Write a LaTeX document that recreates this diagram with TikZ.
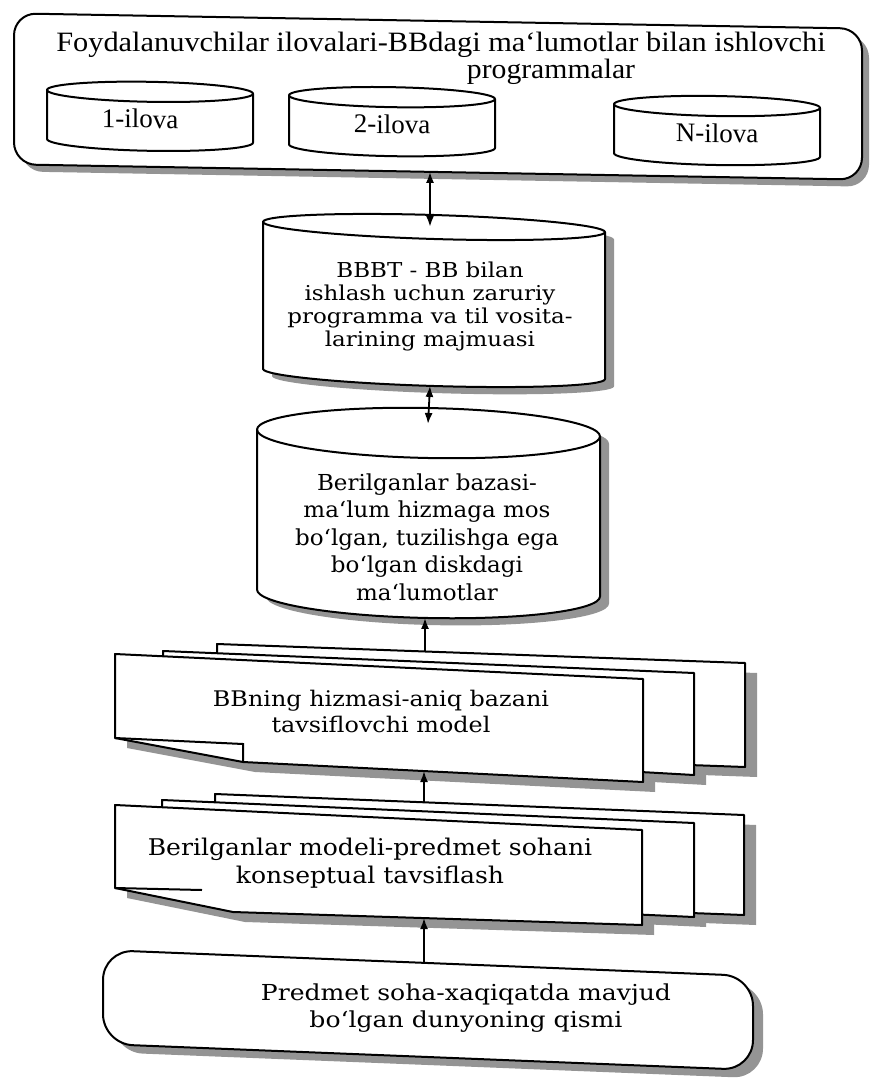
\documentclass[tikz,border=0pt]{standalone}
\usepackage{fontspec}
\setmainfont{Liberation Serif}
\newfontfamily\wideserif{DejaVu Serif}
\usetikzlibrary{arrows.meta}

% closed outline of an upright drum: #1 style, #2 cx, #3 top y, #4 bottom y, #5 rx, #6 ry
\newcommand\drumbody[6]{\path[#1] (#2-#5,#3) -- (#2-#5,#4)
  arc[start angle=180,end angle=0,x radius=#5,y radius=#6] -- (#2+#5,#3)
  arc[start angle=0,end angle=-180,x radius=#5,y radius=#6] -- cycle;}
% front rim of the drum lid: #1 cx, #2 top y, #3 rx, #4 ry
\newcommand\drumrim[4]{\draw[line width=2pt] (#1-#3,#2)
  arc[start angle=180,end angle=0,x radius=#3,y radius=#4];}

\begin{document}
\begin{tikzpicture}[x=1pt,y=-1pt,
  outline/.style={draw=black,line width=2pt,fill=white,line join=round},
  shade/.style={fill=black!42,draw=none},
  twoway/.style={line width=1.8pt,{Latex[length=11pt,width=8pt]}-{Latex[length=11pt,width=8pt]}},
  oneway/.style={line width=1.8pt,-{Latex[length=11pt,width=8pt]}},
  headtext/.style={font=\fontsize{28}{30}\selectfont,inner sep=0pt},
  apptext/.style={font=\fontsize{27}{30}\selectfont,inner sep=0pt,transform shape},
  bodytext/.style 2 args={font=\wideserif\fontsize{#1}{#2}\selectfont,align=center,inner sep=0pt},
]
\fill[white] (0,0) rectangle (876,1083);
\useasboundingbox (0,0) rectangle (876,1083);

% ---- user applications ----
\begin{scope}[shift={(438,0)},yslant=-0.018,shift={(-438,0)}]
  \fill[shade,rounded corners=22pt] (21,28) rectangle (869,179);
  \draw[outline,rounded corners=22pt] (14,21) rectangle (862,172);
  \coordinate (appsS) at (430,172);
  \drumbody{outline}{150}{97}{146}{103}{10}
  \drumrim{150}{97}{103}{10}
  \drumbody{outline}{392}{98}{147}{103}{10}
  \drumrim{392}{98}{103}{10}
  \drumbody{outline}{717}{101}{150}{103}{10}
  \drumrim{717}{101}{103}{10}
  \node[apptext] (app1) at (140,124) {1-ilova};
  \node[apptext] (app2) at (392,125) {2-ilova};
  \node[apptext] (appN) at (717,128) {N-ilova};
\end{scope}
\node[headtext,anchor=base,xscale=1.085] (head1) at (441,51.5) {Foydalanuvchilar ilovalari-BBdagi ma‘lumotlar bilan ishlovchi};
\node[headtext,anchor=base,xscale=1.06] (head2) at (551,79) {programmalar};

% ---- DBMS ----
\begin{scope}[shift={(434,0)},yslant=-0.03,shift={(-434,0)}]
  \drumbody{shade}{443}{234}{381}{171}{12}
  \drumbody{outline}{434}{227}{374}{171}{12}
  \drumrim{434}{227}{171}{12}
  \coordinate (dbmsN) at (430,227);
  \coordinate (dbmsS) at (430,386);
\end{scope}
\node[bodytext={20.5}{23},xscale=1.12] (dbms) at (430,306) {BBBT - BB bilan\\ishlash uchun zaruriy\\programma va til vosita-\\larining majmuasi};

% ---- database ----
\begin{scope}[shift={(428,0)},yslant=-0.02,shift={(-428,0)}]
  \drumbody{shade}{437.5}{440}{600}{171.5}{25}
  \drumbody{outline}{428.5}{433}{593}{171.5}{25}
  \drumrim{428.5}{433}{171.5}{25}
  \coordinate (dataN) at (428,424);
  \coordinate (dataS) at (425,618);
\end{scope}
\node[bodytext={22}{27.5},xscale=1.045] (data) at (427,537) {Berilganlar bazasi-\\ma‘lum hizmaga mos\\bo‘lgan, tuzilishga ega\\bo‘lgan diskdagi\\ma‘lumotlar};

% ---- service model (page stack) ----
\begin{scope}[shift={(12,10)}]
  \fill[shade] (217,644) -- (745,663) -- (745,767) -- (217,748) -- cycle;
  \fill[shade] (163,651) -- (694,673) -- (694,775) -- (163,745) -- cycle;
  \fill[shade] (115,654) -- (643,679) -- (643,782) -- (243,762) -- (115,738) -- cycle;
\end{scope}
\draw[outline] (217,644) -- (745,663) -- (745,767) -- (217,748) -- cycle;
\draw[outline] (163,651) -- (694,673) -- (694,775) -- (163,745) -- cycle;
\draw[outline] (115,654) -- (643,679) -- (643,782) -- (243,762) -- (115,738) -- cycle;
\draw[line width=2pt] (115,738) -- (243,744) -- (243,762);
\node[bodytext={21.5}{26},xscale=1.11] (service) at (381,711) {BBning hizmasi-aniq bazani\\tavsiflovchi model};
\coordinate (serviceN) at (425,652);
\coordinate (serviceS) at (424,771);

% ---- data model (page stack) ----
\begin{scope}[shift={(12,10)}]
  \fill[shade] (215,794) -- (744,815) -- (744,915) -- (215,895) -- cycle;
  \fill[shade] (162,800) -- (694,823) -- (694,917) -- (162,893) -- cycle;
  \fill[shade] (115,805) -- (642,830) -- (642,925) -- (233,912) -- (115,888) -- cycle;
\end{scope}
\draw[outline] (215,794) -- (744,815) -- (744,915) -- (215,895) -- cycle;
\draw[outline] (162,800) -- (694,823) -- (694,917) -- (162,893) -- cycle;
\draw[outline] (115,805) -- (642,830) -- (642,925) -- (233,912) -- (115,888) -- cycle;
\draw[line width=2pt] (115,888) -- (202,890);
\node[bodytext={23}{28},xscale=1.09] (model) at (370,863) {Berilganlar modeli-predmet sohani\\konseptual tavsiflash};
\coordinate (modelN) at (424,802);
\coordinate (modelS) at (424,918);

% ---- subject domain ----
\begin{scope}[shift={(428,0)},yslant=-0.04,shift={(-428,0)}]
  \fill[shade,rounded corners=30pt] (113,971) rectangle (763,1065);
  \draw[outline,rounded corners=30pt] (103,963) rectangle (753,1057);
  \coordinate (domainN) at (424,963);
\end{scope}
\node[bodytext={22}{27},xscale=1.14] (domain) at (466,1008) {Predmet soha-xaqiqatda mavjud\\bo‘lgan dunyoning qismi};

% ---- connectors ----
\draw[twoway] (appsS) -- (dbmsN);
\draw[twoway] (dbmsS) -- (dataN);
\draw[oneway] (serviceN) -- (dataS);
\draw[oneway] (modelN) -- (serviceS);
\draw[oneway] (domainN) -- (modelS);
\end{tikzpicture}
\end{document}
